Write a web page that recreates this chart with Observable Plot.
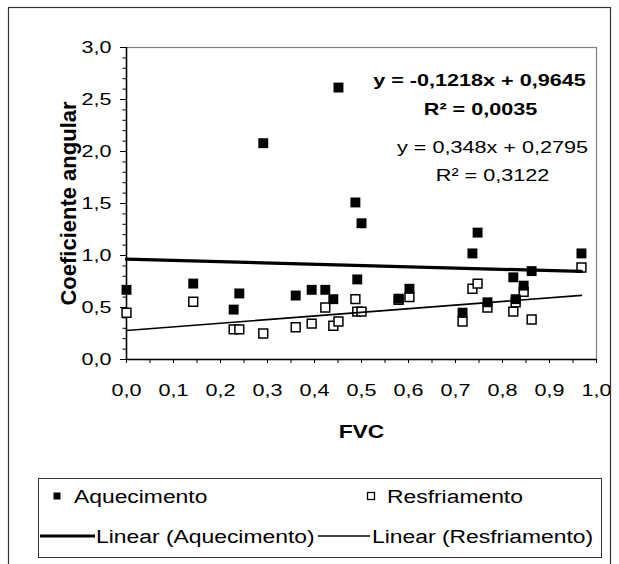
<!DOCTYPE html>
<html><head><meta charset="utf-8">
<script src="https://cdn.jsdelivr.net/npm/d3@7"></script>
<script src="https://cdn.jsdelivr.net/npm/@observablehq/plot@0.6"></script>
<style>
body{margin:0;background:#fff;}
svg{display:block;}
</style></head><body><div id="chart"></div>
<script>
// FVC (x) shared by both series
const fvc          = [0.000, 0.142, 0.228, 0.240, 0.291, 0.360, 0.394, 0.423, 0.440, 0.451, 0.487, 0.491, 0.500, 0.579, 0.602, 0.715, 0.736, 0.747, 0.768, 0.823, 0.828, 0.845, 0.862, 0.968];
const aquecimento  = [0.67, 0.73, 0.48, 0.635, 2.08, 0.615, 0.67, 0.67, 0.58, 2.615, 1.51, 0.77, 1.31, 0.585, 0.68, 0.45, 1.02, 1.22, 0.55, 0.79, 0.58, 0.71, 0.85, 1.02];
const resfriamento = [0.45, 0.555, 0.29, 0.29, 0.25, 0.31, 0.345, 0.50, 0.325, 0.365, 0.58, 0.46, 0.46, 0.575, 0.60, 0.365, 0.68, 0.73, 0.50, 0.46, 0.55, 0.65, 0.385, 0.885];

// Trend lines (Excel linear trendlines)
const seriesNames     = ["Aquecimento", "Resfriamento"];
const trendNames      = ["Linear (Aquecimento)", "Linear (Resfriamento)"];
const trendSlopes     = [-0.1218, 0.348];
const trendIntercepts = [0.9645, 0.2795];
const trendEqs        = ["y = -0,1218x + 0,9645", "y = 0,348x + 0,2795"];
const trendR2         = ["R² = 0,0035", "R² = 0,3122"];

const xTicks  = [0, 0.1, 0.2, 0.3, 0.4, 0.5, 0.6, 0.7, 0.8, 0.9, 1.0];
const xMinor  = d3.range(0, 1.0001, 0.05);
const yTicks  = [0, 0.5, 1.0, 1.5, 2.0, 2.5, 3.0];
const yMinor  = d3.range(0, 3.0001, 0.1);

const fmt = d => d.toFixed(1).replace(".", ",");
const ptsA = fvc.map((x, i) => ({x, y: aquecimento[i]}));
const ptsR = fvc.map((x, i) => ({x, y: resfriamento[i]}));
const xmin = d3.min(fvc), xmax = d3.max(fvc);
const trendA = [xmin, xmax].map(x => ({x, y: trendSlopes[0] * x + trendIntercepts[0]}));
const trendR = [xmin, xmax].map(x => ({x, y: trendSlopes[1] * x + trendIntercepts[1]}));

const font = "'Liberation Sans', Arial, sans-serif";
const FS = 17;
const chart = Plot.plot({
  width: 619, height: 564,
  marginLeft: 126, marginRight: 23, marginTop: 47, marginBottom: 205,
  style: {fontFamily: font, fontSize: FS + "px", background: "white", color: "black"},
  x: {domain: [0, 1], axis: null},
  y: {domain: [0, 3], axis: null},
  marks: [
    Plot.frame({stroke: "#808080", strokeWidth: 1.2}),
    Plot.axisY(yMinor, {tickSize: 3.5, tickFormat: () => "", stroke: "black", label: null}),
    Plot.axisY(yTicks, {tickSize: 6, tickPadding: 9, tickFormat: fmt, stroke: "black", label: null, fontSize: FS}),
    Plot.axisX(xMinor, {tickSize: 4, tickFormat: () => "", stroke: "black", label: null}),
    Plot.axisX(xTicks, {tickSize: 4, tickPadding: 20, tickFormat: fmt, stroke: "black", label: null, fontSize: FS}),
    Plot.ruleX([0], {stroke: "black", strokeWidth: 1.5}),
    Plot.ruleY([0], {stroke: "black", strokeWidth: 1.5}),
    Plot.text(["Coeficiente angular"], {frameAnchor: "left", dx: -58, rotate: -90, textAnchor: "middle", fontWeight: "bold", fontSize: 22, className: "ytitle"}),
    Plot.text(["FVC"], {frameAnchor: "bottom", dy: 78, textAnchor: "middle", fontWeight: "bold", fontSize: 18}),
    // points: cooling (open) beneath heating (filled)
    Plot.dot(ptsR, {x: "x", y: "y", symbol: "square", r: 5.0, fill: "white", stroke: "black", strokeWidth: 1.5}),
    Plot.dot(ptsA, {x: "x", y: "y", symbol: "square", r: 5.6, fill: "black", stroke: "none"}),
    Plot.line(trendA, {x: "x", y: "y", stroke: "black", strokeWidth: 3.2}),
    Plot.line(trendR, {x: "x", y: "y", stroke: "black", strokeWidth: 1.6}),
    // equations
    Plot.text([trendEqs[0]], {frameAnchor: "top-left", dx: 353, dy: 26, textAnchor: "middle", fontWeight: "bold", fontSize: FS}),
    Plot.text([trendR2[0]],  {frameAnchor: "top-left", dx: 354, dy: 55, textAnchor: "middle", fontWeight: "bold", fontSize: FS}),
    Plot.text([trendEqs[1]], {frameAnchor: "top-left", dx: 366, dy: 93, textAnchor: "middle", fontSize: FS}),
    Plot.text([trendR2[1]],  {frameAnchor: "top-left", dx: 366, dy: 121, textAnchor: "middle", fontSize: FS})
  ]
});

const svg = d3.select(chart);
// outer chart-area border
svg.append("rect").attr("x", 8.5).attr("y", 7.5).attr("width", 602).attr("height", 600)
  .attr("fill", "none").attr("stroke", "#333").attr("stroke-width", 1.2);
// legend
const lg = svg.append("g").attr("font-family", font).attr("font-size", 18).attr("fill", "black").attr("text-anchor", "start");
lg.append("rect").attr("x", 38.5).attr("y", 478.5).attr("width", 563).attr("height", 79)
  .attr("fill", "white").attr("stroke", "#333").attr("stroke-width", 1);
lg.append("rect").attr("x", 53.5).attr("y", 492.5).attr("width", 7).attr("height", 7).attr("fill", "black");
lg.append("text").attr("x", 74).attr("y", 497).attr("dy", "0.35em").text(seriesNames[0]);
lg.append("rect").attr("x", 367.5).attr("y", 492.5).attr("width", 7).attr("height", 7).attr("fill", "white").attr("stroke", "black").attr("stroke-width", 1.3);
lg.append("text").attr("x", 387).attr("y", 497).attr("dy", "0.35em").text(seriesNames[1]);
lg.append("line").attr("x1", 40).attr("x2", 95).attr("y1", 536).attr("y2", 536).attr("stroke", "black").attr("stroke-width", 3.2);
lg.append("text").attr("x", 96).attr("y", 537).attr("dy", "0.35em").text(trendNames[0]);
lg.append("line").attr("x1", 318).attr("x2", 370).attr("y1", 536).attr("y2", 536).attr("stroke", "black").attr("stroke-width", 1.6);
lg.append("text").attr("x", 372).attr("y", 537).attr("dy", "0.35em").text(trendNames[1]);

document.getElementById("chart").append(chart);

// the reference chart is horizontally stretched: widen horizontal texts accordingly
const STRETCH = 1.27;
svg.selectAll("text").each(function () {
  if (this.closest(".ytitle")) return;
  const w = this.getComputedTextLength();
  if (!w) return;
  this.setAttribute("textLength", (w * STRETCH).toFixed(1));
  this.setAttribute("lengthAdjust", "spacingAndGlyphs");
});
</script>
</body></html>
